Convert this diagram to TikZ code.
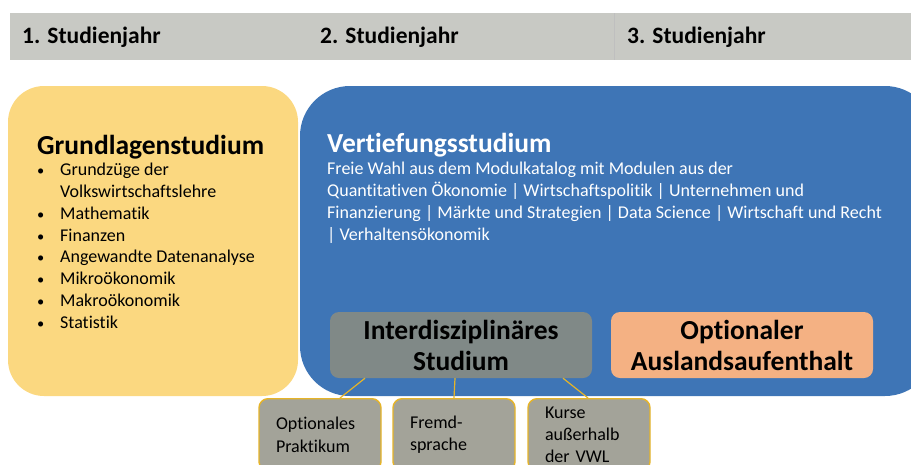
\documentclass[tikz,border=0pt]{standalone}
\usepackage{fontspec}
\setmainfont[Ligatures=NoCommon]{Carlito}
\definecolor{bar}{RGB}{200,201,196}
\definecolor{grund}{RGB}{251,216,128}
\definecolor{vert}{RGB}{62,117,182}
\definecolor{inter}{RGB}{128,137,135}
\definecolor{ausl}{RGB}{244,177,131}
\definecolor{klein}{RGB}{163,163,153}
\definecolor{gold}{RGB}{230,180,40}
\newcommand{\itm}{\makebox[23pt][l]{\scalebox{0.8}{\textbullet}}}
\begin{document}
\begin{tikzpicture}[x=1pt,y=-1pt,
    jahr/.style={anchor=west,inner sep=0pt,font=\fontsize{23.5}{26}\selectfont\bfseries},
    feld/.style={rounded corners=9pt,minimum width=262pt,minimum height=66pt,
        align=center,font=\fontsize{27.5}{31}\selectfont\bfseries},
    wahl/.style={draw=gold,line width=1.4pt,fill=klein,rounded corners=9pt,
        minimum width=122pt,minimum height=72pt,anchor=north,text width=88pt,
        align=left,font=\fontsize{18}{22.5}\selectfont},
    ast/.style={draw=gold,line width=1.2pt}]
\useasboundingbox (0,0) rectangle (911,464);
\clip (0,0) rectangle (911,464);

% Kopfzeile
\fill[bar] (10,13) rectangle (911,60);
\draw[black!25] (614,13) -- (614,60);
\node[jahr] (j1) at (22,37) {1. Studienjahr};
\node[jahr] (j2) at (320,37) {2. Studienjahr};
\node[jahr] (j3) at (627,37) {3. Studienjahr};

% Grundlagen
\fill[grund,rounded corners=36pt] (8,86) rectangle (298,396);
\node[anchor=base west,inner sep=0pt,font=\fontsize{27.5}{30}\selectfont\bfseries]
    (grund) at (37,154) {Grundlagenstudium};
\node[anchor=north west,inner sep=0pt,align=left,font=\fontsize{18}{21.8}\selectfont]
    (liste) at (37,163) {\itm Grundzüge der\\ \hspace*{23pt}Volkswirtschaftslehre\\
    \itm Mathematik\\ \itm Finanzen\\ \itm Angewandte Datenanalyse\\
    \itm Mikroökonomik\\ \itm Makroökonomik\\ \itm Statistik};

% Vertiefung
\fill[vert,rounded corners=50pt] (300,86) rectangle (935,396);
\node[anchor=base west,inner sep=0pt,text=white,font=\fontsize{27.5}{30}\selectfont\bfseries]
    (vert) at (327,152) {Vertiefungsstudium};
\node[anchor=north west,inner sep=0pt,text=white,align=left,font=\fontsize{18}{21.8}\selectfont]
    (module) at (327,162) {Freie Wahl aus dem Modulkatalog mit Modulen aus der\\
    Quantitativen Ökonomie | Wirtschaftspolitik | Unternehmen und\\
    Finanzierung | Märkte und Strategien | Data Science | Wirtschaft und Recht\\
    | Verhaltensökonomik};

\node[feld,fill=inter] (inter) at (461,345) {Interdisziplinäres\\Studium};
\node[feld,fill=ausl] (ausl) at (742,345) {Optionaler\\Auslandsaufenthalt};

% Wahlbereich
\node[wahl] (prakt) at (320,398) {Optionales\\Praktikum};
\node[wahl] (sprache) at (454,398) {Fremd-\\sprache};
\node[wahl] (kurse) at (589,398) {Kurse\\[-0.5pt]außerhalb\\[-0.5pt]der VWL};

\draw[ast] ([xshift=-96pt]inter.south) -- ([xshift=20pt]prakt.north);
\draw[ast] ([xshift=-6pt]inter.south) -- (sprache.north);
\draw[ast] ([xshift=102pt]inter.south) -- ([xshift=-1pt]kurse.north);
\end{tikzpicture}
\end{document}
